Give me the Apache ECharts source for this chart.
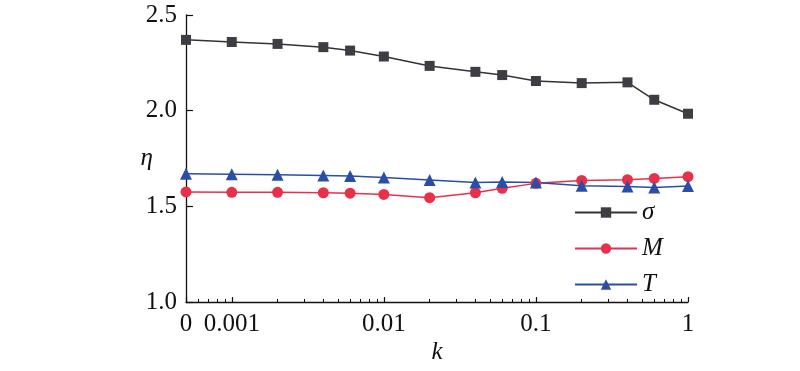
<!DOCTYPE html>
<html>
<head>
<meta charset="utf-8">
<script src="https://cdn.jsdelivr.net/npm/echarts@6/dist/echarts.min.js"></script>
<style>html,body{margin:0;padding:0;background:#fff}#c{width:800px;height:371px}</style>
</head>
<body>
<div id="c"></div>
<script>
// k = 0 is drawn at the left end of the log axis (0.0005), labelled "0"
const kValues = [0.0005, 0.001, 0.002, 0.004, 0.006, 0.01, 0.02, 0.04, 0.06, 0.1, 0.2, 0.4, 0.6, 1];
const sigmaValues = [2.370, 2.359, 2.349, 2.332, 2.314, 2.283, 2.234, 2.203, 2.186, 2.155, 2.144, 2.148, 2.057, 1.984];
const mValues = [1.575, 1.573, 1.573, 1.571, 1.569, 1.562, 1.545, 1.571, 1.594, 1.620, 1.635, 1.639, 1.646, 1.655];
const tValues = [1.670, 1.668, 1.665, 1.661, 1.658, 1.651, 1.637, 1.625, 1.627, 1.625, 1.608, 1.604, 1.599, 1.606];
const xMajorTicks = [0.0005, 0.001, 0.01, 0.1, 1];
const xMinorTicks = [0.0006,0.0007,0.0008,0.0009,
  0.002,0.003,0.004,0.005,0.006,0.007,0.008,0.009,
  0.02,0.03,0.04,0.05,0.06,0.07,0.08,0.09,
  0.2,0.3,0.4,0.5,0.6,0.7,0.8,0.9];
const seriesNames = ['σ', 'M', 'T'];

const font = 'Liberation Serif';
const pairs = v => kValues.map((k, i) => [k, v[i]]);

const chart = echarts.init(document.getElementById('c'), null, {renderer: 'canvas'});
chart.setOption({
  animation: false,
  backgroundColor: '#fff',
  grid: {left: 186, right: 112, top: 15, bottom: 69, outerBoundsMode: 'none', containLabel: false},
  legend: {
    orient: 'vertical', left: 574, top: 200, padding: 0,
    itemWidth: 62, itemHeight: 13, itemGap: 11,
    textStyle: {fontFamily: font, fontStyle: 'italic', fontSize: 25, color: '#111'},
    data: seriesNames
  },
  xAxis: [{
    type: 'log', min: 0.0005, max: 1, logBase: 10,
    name: 'k', nameLocation: 'middle', nameGap: 38, nameMoveOverlap: false,
    nameTextStyle: {fontFamily: font, fontStyle: 'italic', fontSize: 25, color: '#111'},
    axisLine: {lineStyle: {color: '#111', width: 1.3}},
    axisTick: {inside: true, length: 5, customValues: xMajorTicks, lineStyle: {color: '#111', width: 1.2}},
    axisLabel: {
      customValues: xMajorTicks, margin: 10,
      fontFamily: font, fontSize: 25, color: '#111',
      formatter: v => v < 0.0009 ? '0' : (v >= 1 ? '1' : String(+v.toPrecision(3)))
    },
    splitLine: {show: false}, minorTick: {show: false}
  }, {
    type: 'log', min: 0.0005, max: 1, logBase: 10, position: 'bottom',
    axisLine: {show: false},
    axisTick: {inside: true, length: 3, customValues: xMinorTicks, lineStyle: {color: '#111', width: 1}},
    axisLabel: {show: false},
    splitLine: {show: false}
  }],
  yAxis: {
    type: 'value', min: 1.0, max: 2.5, interval: 0.5,
    name: 'η', nameLocation: 'middle', nameGap: 33, nameRotate: 0, nameMoveOverlap: false,
    nameTextStyle: {fontFamily: font, fontStyle: 'italic', fontSize: 25, color: '#111'},
    axisLine: {show: true, lineStyle: {color: '#111', width: 1.3}},
    axisTick: {show: true, inside: true, length: 7, lineStyle: {color: '#111', width: 1.2}},
    axisLabel: {margin: 9, fontFamily: font, fontSize: 25, color: '#111', formatter: v => v.toFixed(1)},
    splitLine: {show: false}
  },
  series: [{
    name: seriesNames[0], type: 'line', data: pairs(sigmaValues),
    symbol: 'rect', symbolSize: 10,
    itemStyle: {color: '#3c3e43'}, lineStyle: {color: '#333', width: 1.5}
  }, {
    name: seriesNames[1], type: 'line', data: pairs(mValues),
    symbol: 'circle', symbolSize: 11,
    itemStyle: {color: '#e8304a'}, lineStyle: {color: '#e8304a', width: 1.5}
  }, {
    name: seriesNames[2], type: 'line', data: pairs(tValues),
    symbol: 'triangle', symbolSize: 12,
    itemStyle: {color: '#2a4ea8'}, lineStyle: {color: '#2a4ea8', width: 1.5}
  }]
});
</script>
</body>
</html>
